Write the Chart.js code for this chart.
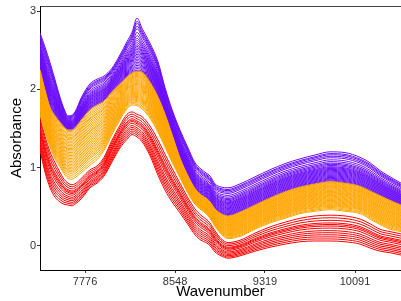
<!DOCTYPE html>
<html>
<head>
<meta charset="utf-8">
<script src="https://cdn.jsdelivr.net/npm/chart.js@4.4.1/dist/chart.umd.min.js"></script>
<style>
    html, body { margin: 0; padding: 0; background: #fff; }
</style>
</head>
<body>
<canvas id="spectra" width="401" height="301"></canvas>
<script>
"use strict";

const wavenumbers = [7390, 7433, 7476, 7519, 7561, 7596, 7630, 7664, 7690, 7750,
    7819, 7879, 7939, 8007, 8076, 8136, 8179, 8222, 8265, 8333,
    8402, 8462, 8522, 8590, 8659, 8719, 8770, 8813, 8848, 8890,
    8942, 9002, 9105, 9233, 9362, 9491, 9619, 9748, 9877, 10005,
    10134, 10220, 10305, 10391, 10485];

const xTicks = [7776, 8548, 9319, 10091];
const yTicks = [0, 1, 2, 3];

// upper and lower edge of each coloured group of spectra
const purpleTop = [2.72, 2.54, 2.34, 2.12, 1.90, 1.75, 1.66, 1.67, 1.71, 1.91,
    2.07, 2.13, 2.17, 2.27, 2.44, 2.61, 2.73, 2.91, 2.78, 2.59,
    2.35, 2.02, 1.74, 1.48, 1.25, 1.06, 0.98, 0.93, 0.89, 0.79,
    0.75, 0.74, 0.79, 0.88, 0.97, 1.05, 1.11, 1.16, 1.20, 1.19,
    1.13, 1.06, 0.96, 0.88, 0.80];

const orangeTop = [2.25, 1.99, 1.77, 1.66, 1.58, 1.52, 1.48, 1.48, 1.51, 1.62,
    1.74, 1.80, 1.85, 1.97, 2.07, 2.16, 2.21, 2.23, 2.22, 2.09,
    1.90, 1.68, 1.42, 1.12, 0.89, 0.73, 0.65, 0.61, 0.56, 0.47,
    0.41, 0.38, 0.43, 0.52, 0.61, 0.69, 0.75, 0.79, 0.82, 0.80,
    0.76, 0.70, 0.64, 0.58, 0.52];

const orangeBottom = [1.67, 1.45, 1.26, 1.11, 1.01, 0.92, 0.86, 0.85, 0.87, 0.94,
    1.03, 1.10, 1.22, 1.42, 1.61, 1.75, 1.80, 1.79, 1.75, 1.63,
    1.45, 1.26, 1.07, 0.87, 0.67, 0.53, 0.46, 0.41, 0.35, 0.25,
    0.15, 0.09, 0.12, 0.21, 0.29, 0.35, 0.41, 0.44, 0.46, 0.44,
    0.41, 0.34, 0.27, 0.21, 0.18];

const redTop = [1.63, 1.40, 1.20, 1.06, 0.94, 0.85, 0.80, 0.78, 0.79, 0.87,
    0.97, 1.02, 1.13, 1.35, 1.54, 1.68, 1.71, 1.68, 1.65, 1.53,
    1.35, 1.17, 0.99, 0.80, 0.61, 0.47, 0.39, 0.34, 0.29, 0.19,
    0.09, 0.04, 0.07, 0.16, 0.24, 0.30, 0.35, 0.38, 0.39, 0.38,
    0.34, 0.28, 0.21, 0.18, 0.15];

const redBottom = [1.22, 0.94, 0.74, 0.62, 0.56, 0.53, 0.52, 0.51, 0.53, 0.61,
    0.74, 0.80, 0.89, 1.07, 1.25, 1.36, 1.42, 1.39, 1.33, 1.15,
    0.90, 0.71, 0.56, 0.42, 0.27, 0.14, 0.07, 0.04, 0.00, -0.08,
    -0.13, -0.16, -0.13, -0.07, -0.02, 0.02, 0.05, 0.06, 0.06, 0.05,
    0.02, -0.03, -0.07, -0.09, -0.12];

// where each spectrum sits inside its group (0 = upper edge, 1 = lower edge)
const purpleLevels = [0, 0.06, 0.1, 0.15, 0.2, 0.27, 0.33, 0.38, 0.42, 0.46,
    0.5, 0.53, 0.56, 0.59, 0.62, 0.65, 0.68, 0.71, 0.74, 0.77,
    0.8, 0.83, 0.86, 0.89, 0.92, 0.95, 0.98, 1.0];

const orangeLevels = [0, 0.03, 0.06, 0.09, 0.12, 0.15, 0.17, 0.2, 0.23, 0.26,
    0.29, 0.32, 0.35, 0.38, 0.4, 0.43, 0.46, 0.49, 0.52, 0.55,
    0.58, 0.61, 0.64, 0.67, 0.7, 0.73, 0.76, 0.79, 0.82, 0.85,
    0.88, 0.92, 0.96, 1.0];

const redLevels = [0, 0.1, 0.2, 0.3, 0.36, 0.42, 0.5, 0.6, 0.68, 0.76, 0.84, 0.92, 1.0];

Chart.defaults.font.family = "'Liberation Sans', Arial, sans-serif";

function bandLine(top, bottom, level)
{
    return wavenumbers.map((w, i) => ({x: w, y: top[i] + (bottom[i] - top[i]) * level}));
}

function makeGroup(top, bottom, levels, color)
{
    return levels.map((level) => ({
        data: bandLine(top, bottom, level),
        borderColor: color,
        borderWidth: 1,
        pointRadius: 0,
        fill: false,
        cubicInterpolationMode: "monotone"
    }));
}

// first dataset is drawn on top, so orange covers the others
const datasets = [
    ...makeGroup(orangeTop, orangeBottom, orangeLevels, "#ffa500"),
    ...makeGroup(redTop, redBottom, redLevels, "#ff0000"),
    ...makeGroup(purpleTop, orangeTop, purpleLevels, "#6a0dff")
];

new Chart("spectra", {
    type: "line",
    data: {datasets: datasets},
    options: {
        responsive: false,
        animation: false,
        layout: {padding: {top: 6, right: 0, bottom: 0, left: 0}},
        plugins: {legend: {display: false}, tooltip: {enabled: false}},
        scales: {
            x: {
                type: "linear",
                min: 7390,
                max: 10485,
                afterBuildTicks: (s) => { s.ticks = xTicks.map((v) => ({value: v})); },
                afterFit: (s) => { s.height = 31; },
                ticks: {color: "#333", font: {size: 11}, padding: 2, maxRotation: 0, autoSkip: false,
                        callback: (v) => String(v)},
                grid: {drawOnChartArea: false, drawTicks: true, tickLength: 3, color: "#333"},
                border: {color: "#000", width: 1},
                title: {display: true, text: "Wavenumber", color: "#000", font: {size: 15},
                        padding: {top: 0, bottom: 0}}
            },
            xTop: {
                type: "linear",
                position: "top",
                display: true,
                min: 7390,
                max: 10485,
                afterFit: (s) => { s.height = 0; },
                ticks: {display: false},
                grid: {display: false},
                border: {color: "#444", width: 1}
            },
            y: {
                type: "linear",
                min: -0.311,
                max: 3.065,
                afterBuildTicks: (s) => { s.ticks = yTicks.map((v) => ({value: v})); },
                afterFit: (s) => { s.width = 40; s.paddingTop = 0; s.paddingBottom = 0; },
                ticks: {color: "#333", font: {size: 11}, padding: 1, callback: (v) => String(v)},
                grid: {drawOnChartArea: false, drawTicks: true, tickLength: 3, color: "#333"},
                border: {color: "#000", width: 1},
                title: {display: true, text: "Absorbance", color: "#000", font: {size: 15},
                        padding: {top: 8, bottom: 0}}
            }
        }
    }
});
</script>
</body>
</html>
